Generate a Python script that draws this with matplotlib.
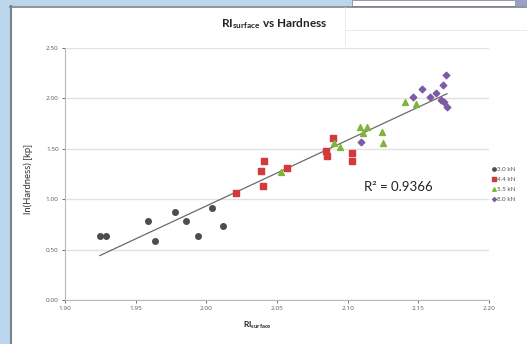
import matplotlib
matplotlib.use("Agg")
import matplotlib.pyplot as plt
import numpy as np
from matplotlib.patches import Rectangle
from matplotlib.lines import Line2D

plt.rcParams["font.family"] = ["Lato", "DejaVu Sans"]
plt.rcParams["mathtext.fontset"] = "custom"
plt.rcParams["mathtext.rm"] = "Lato"
plt.rcParams["mathtext.bf"] = "Lato:bold"

# RI_surface / ln(Hardness) per compaction force
ri_30 = [1.9247, 1.9290, 1.9590, 1.9635, 1.9776, 1.9854, 1.9939, 2.0038, 2.0115]
ln_h_30 = [0.635, 0.635, 0.780, 0.585, 0.873, 0.784, 0.635, 0.913, 0.734]

ri_44 = [2.0207, 2.0405, 2.0390, 2.0398, 2.0574, 2.0899, 2.0849, 2.0856, 2.1033, 2.1033]
ln_h_44 = [1.060, 1.379, 1.280, 1.130, 1.310, 1.607, 1.478, 1.430, 1.458, 1.379]

ri_55 = [2.0525, 2.0906, 2.0948, 2.1090, 2.1140, 2.1110, 2.1245, 2.1252, 2.1407, 2.1485]
ln_h_55 = [1.270, 1.558, 1.518, 1.716, 1.716, 1.657, 1.667, 1.558, 1.964, 1.944]

ri_80 = [2.1096, 2.1464, 2.1527, 2.1584, 2.1626, 2.1661, 2.1675, 2.1697, 2.1682, 2.1703]
ln_h_80 = [1.567, 2.014, 2.093, 2.014, 2.054, 1.984, 2.133, 2.232, 1.964, 1.915]

series_labels = ["3.0 kN", "4.4 kN", "5.5 kN", "8.0 kN"]
r2_text = "R² = 0.9366"

fig = plt.figure(figsize=(5.27, 3.44), dpi=100)
W, H = 527, 344
fig.patch.set_facecolor("#bcd6ee")


def px_rect(x0, y0, x1, y1, **kw):
    # rectangle in pixel coords measured from the top-left corner
    fig.patches.append(Rectangle((x0 / W, 1 - y1 / H), (x1 - x0) / W, (y1 - y0) / H,
                                 transform=fig.transFigure, zorder=-5, **kw))


def px_line(x0, y0, x1, y1, **kw):
    fig.lines.append(Line2D([x0 / W, x1 / W], [1 - y0 / H, 1 - y1 / H],
                            transform=fig.transFigure, zorder=-4, **kw))


# window chrome around the chart
px_rect(10, 6, 527, 344, facecolor="white", edgecolor="none")
px_line(11, 6, 11, 344, color="#7a7f88", lw=1.5)
px_line(10, 6.5, 527, 6.5, color="#7a7f88", lw=1.2)
px_rect(352, 0, 515, 6, facecolor="white", edgecolor="#8a8f98", lw=0.6)
px_rect(515, 0, 527, 6, facecolor="#9aa1c8", edgecolor="none")
px_line(345, 30, 527, 30, color="#e3e8ee", lw=0.6)
px_line(345, 7, 345, 45, color="#e3e8ee", lw=0.6)

ax = fig.add_axes([65 / W, 44 / H, 424 / W, 252 / H])
ax.set_facecolor("none")

ax.scatter(ri_30, ln_h_30, marker="o", s=16, color="#4d4d4d", zorder=3, label=series_labels[0])
ax.scatter(ri_44, ln_h_44, marker="s", s=16, color="#d33a3c", zorder=3, label=series_labels[1])
ax.scatter(ri_55, ln_h_55, marker="^", s=18, color="#80b43c", zorder=3, label=series_labels[2])
ax.scatter(ri_80, ln_h_80, marker="D", s=11, color="#7d5aa6", zorder=3, label=series_labels[3])

# linear trend line over all points
all_x = np.array(ri_30 + ri_44 + ri_55 + ri_80)
all_y = np.array(ln_h_30 + ln_h_44 + ln_h_55 + ln_h_80)
slope, intercept = np.polyfit(all_x, all_y, 1)
xs = np.array([all_x.min(), all_x.max()])
ax.plot(xs, slope * xs + intercept, color="#6b6b6b", lw=0.9, zorder=2)

ax.text(2.1116, 1.12, r2_text, fontsize=9.5, color="#222222", va="center", ha="left")

xticks = np.arange(1.90, 2.201, 0.05)
yticks = np.arange(0, 2.51, 0.5)
ax.set_xlim(1.90, 2.20)
ax.set_ylim(0, 2.5)
ax.set_xticks(xticks)
ax.set_yticks(yticks)
ax.set_xticklabels([f"{v:.2f}" for v in xticks], family=["Open Sans", "DejaVu Sans"])
ax.set_yticklabels([f"{v:.2f}" for v in yticks], family=["Open Sans", "DejaVu Sans"])
ax.tick_params(labelsize=4.6, colors="#555555", length=2.5, width=0.6, pad=2)
ax.grid(axis="y", color="#e2e2e2", lw=1.0)
ax.set_axisbelow(True)
for side in ("top", "right"):
    ax.spines[side].set_visible(False)
for side in ("left", "bottom"):
    ax.spines[side].set_color("#b8b8b8")
    ax.spines[side].set_linewidth(0.8)

ax.set_ylabel("ln(Hardness) [kp]", fontsize=6.8, color="#333333")
ax.yaxis.set_label_coords(-0.075, 0.48)
fig.text(257 / W, 1 - 325 / H, r"$\mathbf{RI_{surface}}$", fontsize=6, ha="center", va="center",
         color="#222222")
fig.text(274 / W, 1 - 24 / H, r"$\mathbf{RI_{surface}}$ vs Hardness", fontsize=8.5,
         fontweight="bold", ha="center", va="center", color="#222222")

ax.legend(loc="center left", bbox_to_anchor=(0.995, 0.46), frameon=False, fontsize=4.5,
          handletextpad=0.1, handlelength=0.8, labelspacing=0.75, markerscale=0.6,
          borderaxespad=0.3, labelcolor="#555555")

fig.savefig("out.png", dpi=100)
